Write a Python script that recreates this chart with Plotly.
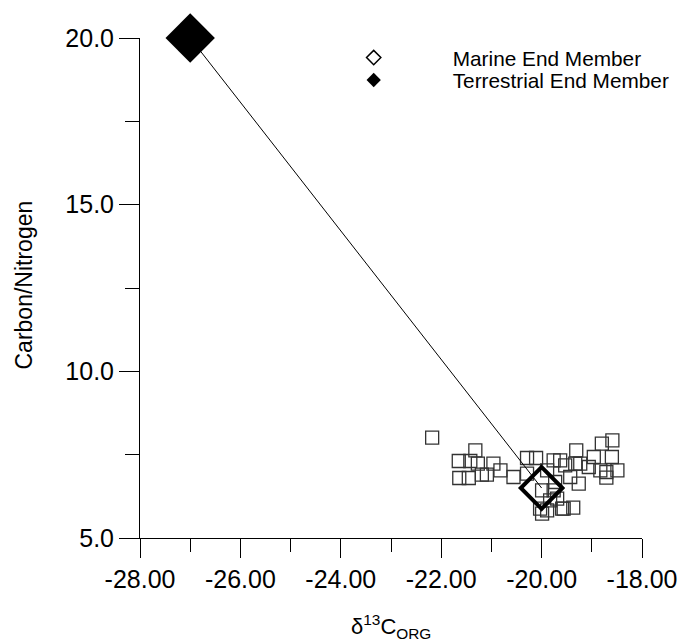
import plotly.graph_objects as go

# Sample data (delta13C_org, C/N)
sample_d13c = [-22.18, -21.32, -21.65, -21.42, -21.27, -20.96, -20.82, -21.64, -21.45,
               -21.19, -21.09, -20.56, -20.29, -20.11, -20.29, -19.99, -19.89, -19.73,
               -19.69, -20.03, -19.89, -19.99, -19.56, -19.37, -19.76, -19.63, -19.53,
               -19.33, -19.31, -19.23, -19.26, -19.43, -19.06, -18.96, -18.80, -18.59,
               -18.60, -18.83, -18.71, -18.71, -18.49, -19.83, -19.76, -19.59]
sample_cn = [8.01, 7.63, 7.31, 7.31, 7.23, 7.23, 7.03, 6.80, 6.80,
             6.90, 6.90, 6.83, 7.40, 7.40, 6.93, 6.43, 7.03, 6.68,
             6.18, 5.88, 5.83, 5.73, 5.88, 5.91, 7.33, 7.33, 7.18,
             7.23, 7.63, 7.23, 6.63, 6.83, 7.13, 7.43, 7.83, 7.93,
             7.43, 7.03, 6.98, 6.81, 7.03, 6.13, 6.43, 5.88]

# End members
marine_d13c, marine_cn = -20.0, 6.5
terr_d13c, terr_cn = -27.0, 20.0

x_tickvals = [-28, -26, -24, -22, -20, -18]
x_ticktext = ["-28.00", "-26.00", "-24.00", "-22.00", "-20.00", "-18.00"]
x_minor = [-27, -25, -23, -21, -19]
y_tickvals = [5, 10, 15, 20]
y_ticktext = ["5.0", "10.0", "15.0", "20.0"]
y_minor = [7.5, 12.5, 17.5]

FONT = "Liberation Sans, Arial, sans-serif"

fig = go.Figure()

fig.add_trace(go.Scatter(
    x=sample_d13c, y=sample_cn, mode="markers",
    marker=dict(symbol="square-open", size=13, color="#333333", line=dict(width=1.3)),
    showlegend=False, cliponaxis=False))

fig.add_trace(go.Scatter(
    x=[terr_d13c, marine_d13c], y=[terr_cn, marine_cn], mode="lines",
    line=dict(color="black", width=1), showlegend=False, cliponaxis=False))

fig.add_trace(go.Scatter(
    x=[marine_d13c], y=[marine_cn], mode="markers",
    marker=dict(symbol="diamond-open", size=32, color="black", line=dict(width=4)),
    showlegend=False, cliponaxis=False))

fig.add_trace(go.Scatter(
    x=[terr_d13c], y=[terr_cn], mode="markers",
    marker=dict(symbol="diamond", size=38, color="black", line=dict(width=0)),
    showlegend=False, cliponaxis=False))

# legend entries
fig.add_trace(go.Scatter(
    x=[None], y=[None], mode="markers", name="Marine End Member",
    marker=dict(symbol="diamond-open", size=11, color="black", line=dict(width=1.5)),
    legend="legend"))
fig.add_trace(go.Scatter(
    x=[None], y=[None], mode="markers", name="Terrestrial End Member",
    marker=dict(symbol="diamond", size=11, color="black"),
    legend="legend2"))

leg_common = dict(font=dict(family=FONT, size=20.8, color="black"), itemwidth=148,
                  bgcolor="rgba(0,0,0,0)", borderwidth=0, xanchor="left", yanchor="middle")

# plot area: 140..642 px horizontally inside a 140..683 paper region
XDOM = 502 / 543

fig.update_layout(
    width=683, height=642, autosize=False,
    margin=dict(l=140, r=0, t=38, b=104),
    paper_bgcolor="white", plot_bgcolor="white",
    font=dict(family=FONT, color="black"),
    legend=dict(x=0.2849, y=0.960, **leg_common),
    legend2=dict(x=0.2849, y=0.915, **leg_common),
    xaxis=dict(domain=[0, XDOM], range=[-28, -18], tickmode="array",
               tickvals=x_tickvals, ticktext=x_ticktext,
               ticks="outside", ticklen=19, tickwidth=1, tickcolor="black",
               tickfont=dict(family=FONT, size=25, color="black"),
               showline=True, linecolor="black", linewidth=1,
               showgrid=False, zeroline=False, automargin=False,
               minor=dict(tickmode="array", tickvals=x_minor, ticks="outside",
                          ticklen=13, tickwidth=1, tickcolor="black", showgrid=False)),
    yaxis=dict(range=[5, 20], tickmode="array", tickvals=y_tickvals, ticktext=y_ticktext,
               ticks="outside", ticklen=20, tickwidth=1, tickcolor="black",
               tickfont=dict(family=FONT, size=25, color="black"),
               showline=True, linecolor="black", linewidth=1,
               showgrid=False, zeroline=False, automargin=False,
               minor=dict(tickmode="array", tickvals=y_minor, ticks="outside",
                          ticklen=14, tickwidth=1, tickcolor="black", showgrid=False)),
    annotations=[
        dict(text="δ<sup>13</sup>C<sub>ORG</sub>", xref="paper", yref="paper",
             x=(390.7 - 140) / 543, y=-0.176, xanchor="center", yanchor="middle",
             showarrow=False, font=dict(family=FONT, size=22, color="black")),
        dict(text="Carbon/Nitrogen", xref="paper", yref="paper", textangle=-90,
             x=(23 - 140) / 543, y=0.505, xanchor="center", yanchor="middle",
             showarrow=False, font=dict(family=FONT, size=23, color="black")),
    ],
)

fig.write_html("out.html", config={"displayModeBar": False})

# remove the browser's default page margin so the figure sits at the window origin
with open("out.html", "r", encoding="utf-8") as f:
    html = f.read()
html = html.replace("<body>", '<body style="margin:0;padding:0;overflow:hidden;">', 1)
with open("out.html", "w", encoding="utf-8") as f:
    f.write(html)
